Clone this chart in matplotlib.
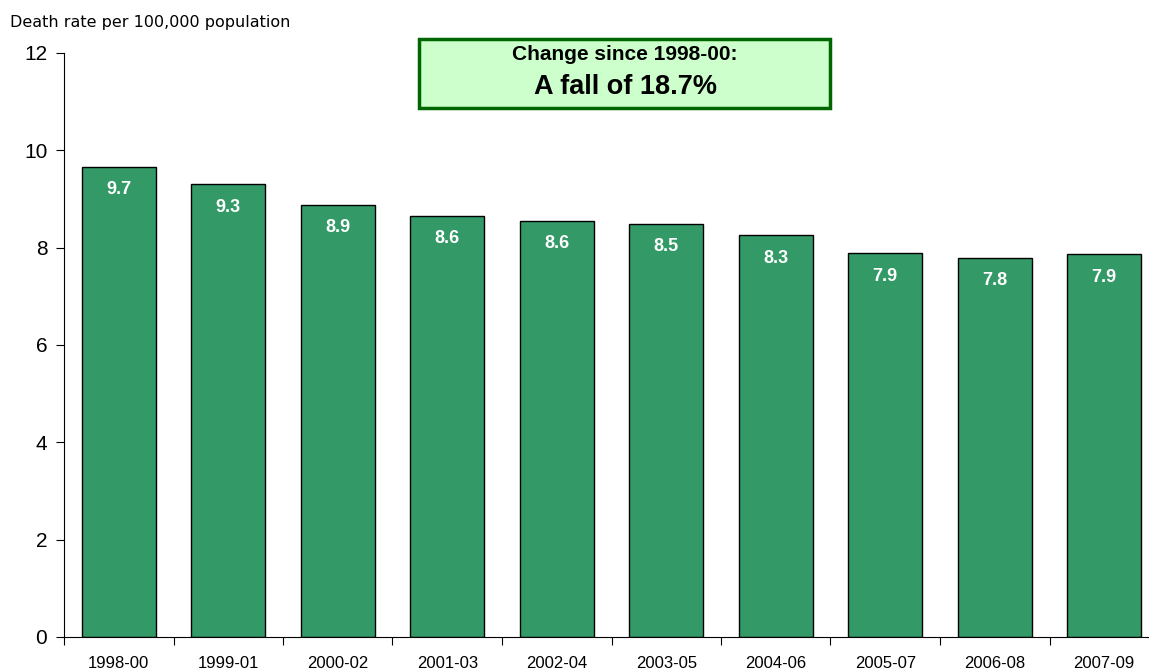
import matplotlib
matplotlib.use("Agg")
import matplotlib.pyplot as plt
from matplotlib.patches import FancyBboxPatch

plt.rcParams['font.family'] = ['Liberation Sans', 'DejaVu Sans']

periodos = ['1998-00', '1999-01', '2000-02', '2001-03', '2002-04',
            '2003-05', '2004-06', '2005-07', '2006-08', '2007-09']
tasas = [9.66, 9.31, 8.88, 8.66, 8.55, 8.49, 8.26, 7.89, 7.79, 7.87]
etiquetas = ['9.7', '9.3', '8.9', '8.6', '8.6', '8.5', '8.3', '7.9', '7.8', '7.9']
yticks = [0, 2, 4, 6, 8, 10, 12]

fig = plt.figure(figsize=(11.49, 6.7), dpi=100)
ax = fig.add_axes([64/1149, 33/670, 1095/1149, 584/670])

x = list(range(len(periodos)))
ax.bar(x, tasas, width=0.675, color='#339966', edgecolor='black', linewidth=1)
for i in x:
    ax.text(i, tasas[i] - 0.3, etiquetas[i], ha='center', va='top',
            color='white', fontsize=13, fontweight='bold')

ax.set_xlim(-0.5, len(periodos) - 0.5)
ax.set_ylim(0, 12)
ax.set_yticks(yticks)
ax.tick_params(axis='y', labelsize=15, length=6, direction='out', pad=6)

# marcas entre categorias, etiquetas centradas
ax.set_xticks([i - 0.5 for i in x] + [len(x) - 0.5])
ax.set_xticklabels([])
ax.set_xticks(x, minor=True)
ax.set_xticklabels(periodos, minor=True)
ax.tick_params(axis='x', which='major', length=6, direction='out')
ax.tick_params(axis='x', which='minor', length=0, labelsize=12, pad=14)

for s in ['top', 'right']:
    ax.spines[s].set_visible(False)

fig.text(10/1149, 1 - 22/670, 'Death rate per 100,000 population',
         fontsize=11.5, family='DejaVu Sans', va='center', ha='left')

caja = FancyBboxPatch((419/1149, 1 - 108/670), 411/1149, 69/670,
                      boxstyle='square,pad=0', transform=fig.transFigure,
                      facecolor='#CCFFCC', edgecolor='#006600', linewidth=2.5)
fig.patches.append(caja)
fig.text(625/1149, 1 - 54/670, 'Change since 1998-00:', fontsize=15,
         fontweight='bold', ha='center', va='center')
fig.text(625/1149, 1 - 87/670, 'A fall of 18.7%', fontsize=19.5,
         fontweight='bold', ha='center', va='center')

plt.savefig("out.png", dpi=100)
